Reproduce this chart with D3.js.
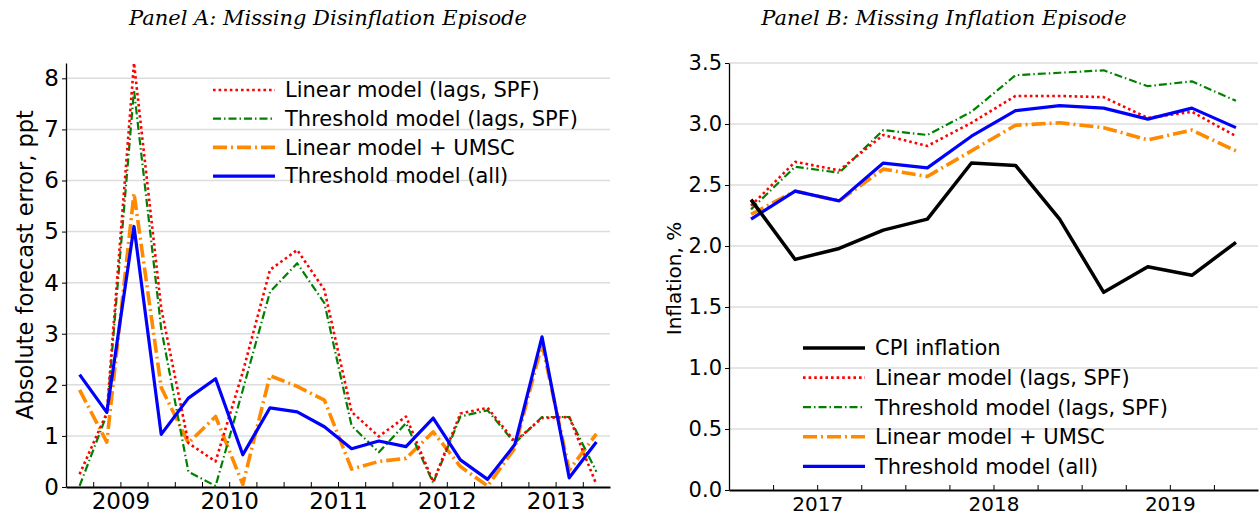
<html>
  <head>
    <meta charset="utf-8" />
    <title>Missing disinflation / missing inflation</title>
    <style>
      body { margin: 0; background: #fff; }
      text { font-family: "DejaVu Sans", "Liberation Sans", sans-serif; fill: #000; }
      .title { font-family: "DejaVu Serif", "Liberation Serif", serif; font-style: italic; }
    </style>
  </head>
  <body>
    <script src="https://cdnjs.cloudflare.com/ajax/libs/d3/7.8.5/d3.min.js"></script>
    <script>
      const width = 1260;
      const height = 519;

      // Panel A: absolute forecast errors, quarterly
      const periodsA = ["2008Q3", "2008Q4", "2009Q1", "2009Q2", "2009Q3", "2009Q4", "2010Q1", "2010Q2",
        "2010Q3", "2010Q4", "2011Q1", "2011Q2", "2011Q3", "2011Q4", "2012Q1", "2012Q2",
        "2012Q3", "2012Q4", "2013Q1", "2013Q2"];
      const linearA = [0.25, 1.45, 8.3, 3.5, 0.86, 0.5, 2.25, 4.25, 4.64, 3.86, 1.47, 0.99, 1.38, 0.1, 1.44, 1.55, 0.89, 1.35, 1.37, 0.05];
      const thresholdA = [0.02, 1.42, 7.77, 3.1, 0.3, 0.02, 1.9, 3.82, 4.38, 3.6, 1.2, 0.68, 1.25, 0.08, 1.38, 1.5, 0.86, 1.37, 1.37, 0.3];
      const umscA = [1.9, 0.88, 5.75, 1.95, 0.86, 1.38, 0.05, 2.18, 1.97, 1.7, 0.35, 0.5, 0.56, 1.08, 0.4, 0.02, 0.76, 2.8, 0.33, 1.04];
      const allA = [2.2, 1.46, 5.1, 1.03, 1.74, 2.12, 0.63, 1.55, 1.47, 1.18, 0.75, 0.9, 0.79, 1.35, 0.53, 0.15, 0.83, 2.94, 0.18, 0.88];
      const yearsA = [2009, 2010, 2011, 2012, 2013];
      const yTicksA = [0, 1, 2, 3, 4, 5, 6, 7, 8];

      // Panel B: inflation and forecasts, quarterly
      const periodsB = ["2016Q3", "2016Q4", "2017Q1", "2017Q2", "2017Q3", "2017Q4",
        "2018Q1", "2018Q2", "2018Q3", "2018Q4", "2019Q1", "2019Q2"];
      const cpiB = [2.38, 1.89, 1.98, 2.13, 2.22, 2.68, 2.66, 2.22, 1.62, 1.83, 1.76, 2.03];
      const linearB = [2.33, 2.69, 2.62, 2.91, 2.82, 3.01, 3.23, 3.23, 3.22, 3.05, 3.1, 2.9];
      const thresholdB = [2.3, 2.65, 2.6, 2.95, 2.91, 3.1, 3.4, 3.42, 3.44, 3.31, 3.35, 3.19];
      const umscB = [2.26, 2.45, 2.37, 2.63, 2.57, 2.78, 2.99, 3.01, 2.97, 2.87, 2.95, 2.78];
      const allB = [2.22, 2.45, 2.37, 2.68, 2.64, 2.9, 3.11, 3.15, 3.13, 3.04, 3.13, 2.97];
      const yearsB = [2017, 2018, 2019];
      const yTicksB = [0, 0.5, 1, 1.5, 2, 2.5, 3, 3.5];

      const labels = {
        cpi: "CPI inflation",
        linear: "Linear model (lags, SPF)",
        threshold: "Threshold model (lags, SPF)",
        umsc: "Linear model + UMSC",
        all: "Threshold model (all)"
      };
      const styles = {
        cpi: { color: "#000000", width: 3.5, dash: null },
        linear: { color: "#ff0000", width: 2.6, dash: "2.6,3" },
        threshold: { color: "#008000", width: 2.2, dash: "8,3,1.5,3" },
        umsc: { color: "#ff8a00", width: 3.6, dash: "14,4,2,4" },
        all: { color: "#0000ff", width: 3.2, dash: null }
      };

      // "2009Q1" -> mid-quarter decimal year
      function toYear(p) {
        return +p.slice(0, 4) + (+p.slice(5) - 1) * 0.25 + 0.125;
      }

      const svg = d3.select("body").append("svg")
        .attr("width", width)
        .attr("height", height);

      function panel(opt) {
        const x = d3.scaleLinear().domain(opt.xDomain).range([opt.left, opt.right]);
        const y = d3.scaleLinear().domain(opt.yDomain).range([opt.bottom, opt.top]);
        const g = svg.append("g");

        // grid
        g.append("g").selectAll("line")
          .data(opt.yTicks.filter(d => d > 0))
          .join("line")
          .attr("x1", opt.left).attr("x2", opt.right)
          .attr("y1", d => y(d)).attr("y2", d => y(d))
          .attr("stroke", "#dcdcdc").attr("stroke-width", 1.5);

        // quarter ticks on x axis, labels on the years
        const quarterTicks = d3.range(opt.xDomain[0] + 0.25, opt.xDomain[1], 0.25);
        const xAxis = g.append("g")
          .attr("transform", `translate(0,${opt.bottom})`)
          .call(d3.axisBottom(x)
            .tickValues(quarterTicks)
            .tickSizeInner(-5)
            .tickSizeOuter(0)
            .tickPadding(opt.xPad)
            .tickFormat(d => (opt.years.includes(Math.round(d * 100) / 100) ? String(Math.round(d)) : "")));
        xAxis.select(".domain").attr("stroke-width", 2.2);
        xAxis.selectAll(".tick line").attr("stroke-width", 1);
        xAxis.selectAll("text").style("font-size", opt.xFont + "px").attr("fill", "#000");

        const yAxis = g.append("g")
          .attr("transform", `translate(${opt.left},0)`)
          .call(d3.axisLeft(y)
            .tickValues(opt.yTicks)
            .tickSizeInner(4)
            .tickSizeOuter(0)
            .tickPadding(3)
            .tickFormat(opt.yFormat));
        yAxis.select(".domain").attr("stroke-width", 1.3);
        yAxis.selectAll("text").style("font-size", opt.yFont + "px").attr("fill", "#000");

        // axis title
        g.append("text")
          .attr("transform", `translate(${opt.yTitleX},${(opt.top + opt.bottom) / 2 - opt.yTitleShift}) rotate(-90)`)
          .attr("text-anchor", "middle")
          .style("font-size", opt.yTitleFont + "px")
          .text(opt.yTitle);

        // panel title
        g.append("text")
          .attr("class", "title")
          .attr("x", opt.titleX).attr("y", 25)
          .attr("text-anchor", "middle")
          .style("font-size", "21px")
          .text(opt.title);

        // series
        const line = d3.line()
          .x((d, i) => x(toYear(opt.periods[i])))
          .y(d => y(d));
        opt.series.forEach(s => {
          const st = styles[s.key];
          g.append("path")
            .datum(s.values)
            .attr("fill", "none")
            .attr("stroke", st.color)
            .attr("stroke-width", st.width)
            .attr("stroke-dasharray", st.dash)
            .attr("stroke-linejoin", "round")
            .attr("d", line);
        });

        // legend
        const leg = g.append("g");
        opt.series.slice().sort((a, b) => a.order - b.order).forEach((s, i) => {
          const st = styles[s.key];
          const ly = opt.legY + i * opt.legStep;
          leg.append("line")
            .attr("x1", opt.legX).attr("x2", opt.legX + 62)
            .attr("y1", ly).attr("y2", ly)
            .attr("stroke", st.color)
            .attr("stroke-width", st.width)
            .attr("stroke-dasharray", st.dash);
          leg.append("text")
            .attr("x", opt.legX + 72).attr("y", ly)
            .attr("dy", "0.35em")
            .style("font-size", opt.legFont + "px")
            .text(labels[s.key]);
        });
      }

      panel({
        title: "Panel A: Missing Disinflation Episode",
        titleX: 328,
        periods: periodsA,
        years: yearsA,
        xDomain: [2008.5, 2013.5],
        yDomain: [0, 8.3],
        yTicks: yTicksA,
        yFormat: d3.format("d"),
        left: 66, right: 610, top: 63, bottom: 487,
        xPad: 6, xFont: 23, yFont: 23,
        yTitle: "Absolute forecast error, ppt", yTitleX: 33, yTitleShift: 10, yTitleFont: 22.5,
        legX: 213, legY: 90, legStep: 28.7, legFont: 21,
        series: [
          { key: "umsc", values: umscA, order: 2 },
          { key: "threshold", values: thresholdA, order: 1 },
          { key: "linear", values: linearA, order: 0 },
          { key: "all", values: allA, order: 3 }
        ]
      });

      panel({
        title: "Panel B: Missing Inflation Episode",
        titleX: 944,
        periods: periodsB,
        years: yearsB,
        xDomain: [2016.5, 2019.5],
        yDomain: [0, 3.5],
        yTicks: yTicksB,
        yFormat: d3.format(".1f"),
        left: 729, right: 1258, top: 63, bottom: 490,
        xPad: 7, xFont: 20, yFont: 21,
        yTitle: "Inflation, %", yTitleX: 681, yTitleShift: -2, yTitleFont: 20,
        legX: 803, legY: 348, legStep: 29.6, legFont: 21,
        series: [
          { key: "umsc", values: umscB, order: 3 },
          { key: "threshold", values: thresholdB, order: 2 },
          { key: "linear", values: linearB, order: 1 },
          { key: "all", values: allB, order: 4 },
          { key: "cpi", values: cpiB, order: 0 }
        ]
      });
    </script>
  </body>
</html>
